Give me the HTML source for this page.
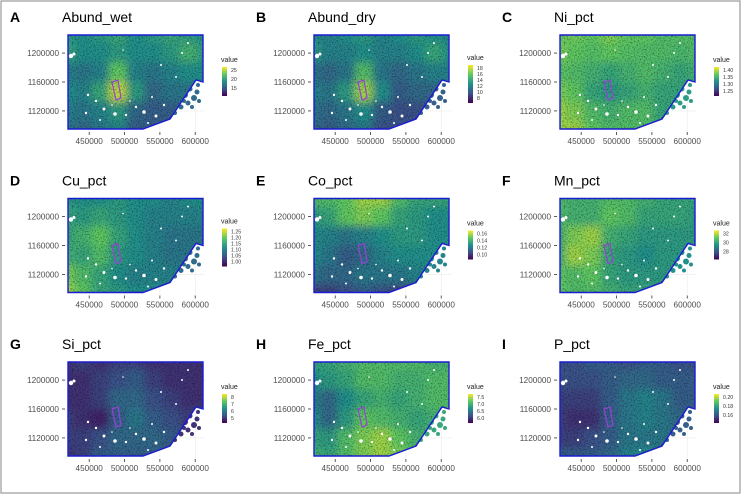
<!DOCTYPE html>
<html><head><meta charset="utf-8"><style>
body{margin:0;background:#fff}
svg{display:block;font-family:"Liberation Sans",sans-serif}
</style></head><body>
<svg id="fig" width="746" height="501" viewBox="0 0 746 501">
<defs>
<filter id="blur" x="-10%" y="-10%" width="120%" height="120%"><feGaussianBlur stdDeviation="4"/></filter>
<filter id="grain"><feTurbulence type="fractalNoise" baseFrequency="0.7" numOctaves="2" seed="3"/><feColorMatrix type="matrix" values="0 0 0 0 0  0 0 0 0 0  0 0 0 0 0  0 0 0 -2.6 1.4"/></filter>
</defs>
<rect x="1" y="1" width="739" height="492" fill="none" stroke="#999" stroke-width="1.2"/>
</svg>
<script>
const panelLetters=["A","B","C","D","E","F","G","H","I"];
const panelTitles=["Abund_wet","Abund_dry","Ni_pct","Cu_pct","Co_pct","Mn_pct","Si_pct","Fe_pct","P_pct"];
const legendTicks=[["25","20","15"],["18","16","14","12","10","8"],["1.40","1.35","1.30","1.25"],["1.25","1.20","1.15","1.10","1.05","1.00"],["0.16","0.14","0.12","0.10"],["32","30","28"],["8","7","6","5"],["7.5","7.0","6.5","6.0"],["0.20","0.18","0.16"]];
const xTickLabels=["450000","500000","550000","600000"];
const xTickValues=[450000,500000,550000,600000];
const yTickLabels=["1200000","1160000","1120000"];
const yTickValues=[1200000,1160000,1120000];
const gridA=[[.55,.5,.55,.6,.5,.55,.6,.55,.5],[.6,.5,.5,.55,.5,.5,.55,.65,.55],[.45,.4,.45,.75,.45,.4,.45,.5,.5],[.5,.45,.6,.9,.55,.35,.4,.4,.4],[.45,.4,.45,.55,.35,.3,.3,.35,.4],[.4,.35,.4,.45,.3,.3,.3,.35,.4]];
const gridB=[[.5,.45,.5,.55,.45,.5,.55,.5,.45],[.55,.45,.45,.5,.45,.45,.5,.6,.5],[.4,.35,.4,.7,.4,.35,.4,.45,.45],[.45,.4,.55,.85,.5,.3,.35,.35,.35],[.4,.35,.4,.5,.3,.25,.25,.3,.35],[.35,.3,.35,.4,.25,.25,.25,.3,.35]];
const gridC=[[.75,.78,.75,.8,.75,.75,.7,.72,.7],[.8,.75,.72,.75,.72,.7,.7,.68,.7],[.75,.7,.65,.6,.65,.7,.65,.6,.65],[.8,.75,.6,.55,.6,.65,.6,.6,.6],[.85,.8,.7,.65,.7,.7,.6,.6,.6],[.85,.85,.75,.7,.7,.7,.6,.6,.6]];
const gridD=[[.55,.5,.5,.55,.5,.5,.45,.5,.5],[.6,.55,.6,.55,.5,.45,.45,.45,.45],[.6,.65,.75,.6,.5,.45,.4,.4,.4],[.65,.6,.7,.55,.5,.45,.4,.4,.4],[.8,.7,.6,.5,.45,.45,.45,.4,.45],[.85,.75,.6,.55,.5,.5,.5,.45,.45]];
const gridE=[[.7,.7,.75,.85,.85,.7,.6,.6,.6],[.55,.6,.75,.8,.75,.6,.55,.5,.5],[.5,.45,.4,.45,.5,.55,.55,.5,.5],[.5,.4,.3,.35,.45,.5,.5,.5,.5],[.4,.35,.35,.4,.4,.4,.45,.5,.5],[.2,.2,.25,.3,.25,.2,.2,.3,.3]];
const gridF=[[.7,.65,.65,.7,.7,.65,.6,.6,.6],[.7,.65,.65,.75,.7,.6,.6,.6,.55],[.65,.8,.85,.65,.6,.55,.55,.55,.55],[.65,.85,.8,.6,.55,.5,.55,.55,.55],[.75,.7,.75,.6,.55,.55,.55,.55,.55],[.75,.7,.7,.65,.6,.6,.6,.55,.55]];
const gridG=[[.15,.2,.15,.2,.2,.15,.15,.15,.15],[.15,.15,.2,.25,.3,.2,.15,.15,.15],[.15,.15,.2,.35,.35,.25,.2,.15,.15],[.2,.15,.1,.3,.4,.3,.25,.2,.2],[.2,.2,.25,.35,.35,.35,.3,.25,.25],[.15,.2,.3,.3,.3,.3,.3,.25,.25]];
const gridH=[[.6,.6,.65,.7,.7,.7,.7,.65,.65],[.5,.55,.6,.7,.7,.65,.65,.7,.7],[.45,.35,.5,.6,.65,.6,.65,.7,.7],[.5,.35,.55,.75,.7,.65,.6,.65,.65],[.6,.55,.7,.8,.85,.75,.65,.65,.65],[.65,.6,.7,.8,.85,.8,.7,.65,.65]];
const gridI=[[.25,.25,.3,.3,.25,.3,.3,.25,.25],[.25,.25,.25,.3,.35,.35,.3,.3,.3],[.2,.2,.2,.3,.4,.45,.4,.3,.3],[.2,.15,.15,.3,.4,.45,.4,.35,.35],[.2,.2,.25,.3,.4,.4,.4,.35,.35],[.3,.3,.3,.35,.45,.5,.35,.35,.35]];
const grids=[gridA,gridB,gridC,gridD,gridE,gridF,gridG,gridH,gridI];

const NS="http://www.w3.org/2000/svg";
const svg=document.getElementById('fig');
const defs=svg.querySelector('defs');
const V=[[0,[68,1,84]],[.25,[59,82,139]],[.5,[33,145,140]],[.75,[94,201,98]],[1,[253,231,37]]];
function vir(t){t=Math.max(0,Math.min(1,t));for(let i=0;i<V.length-1;i++){const [a,ca]=V[i],[b,cb]=V[i+1];if(t<=b){const f=(t-a)/(b-a);return `rgb(${ca.map((c,k)=>Math.round(c+(cb[k]-c)*f)).join(',')})`;}}}
function mk(tag,attrs,parent){const e=document.createElementNS(NS,tag);for(const k in attrs)e.setAttribute(k,attrs[k]);(parent||svg).appendChild(e);return e;}
const MW=135,MH=94;
const X0=420000,X1=611000,Y0=1225000,Y1=1095000;
function sx(v){return (v-X0)/(X1-X0)*MW;}
function sy(v){return (v-Y0)/(Y1-Y0)*MH;}
const outline="0,0 135,0 135,47 128,45 102,84 75,94 0,94";
const holes=[[3,21,2.2],[6,19,1.5],[20,60,1.2],[28,66,1.2],[36,74,1.5],[47,79,1.8],[58,80,1.2],[68,72,1.2],[76,77,1.8],[88,81,1.5],[96,70,1.2],[84,62,1],[55,15,.8],[93,30,1],[114,18,1],[120,8,1],[18,78,1.2],[32,85,1],[108,42,1],[44,70,.8],[62,66,.8],[80,88,1]];
const islands=[[117,60,3],[122,54,2.5],[129,57,2.5],[126,63,3],[120,68,2.5],[113,72,2.5],[131,66,2],[107,78,2],[124,72,2],[130,50,2],[116,66,2]];
grids.forEach((g,p)=>{
  const col=p%3,row=Math.floor(p/3);
  const ox=68+col*246, oy=35+row*163.5;
  const G=mk('g',{transform:`translate(${ox},${oy})`});
  
  
  const lt=mk('text',{x:-58,y:-13,'font-size':14,'font-weight':'bold',fill:'#000'},G);lt.textContent=panelLetters[p];
  
  const tt=mk('text',{x:-6,y:-13,'font-size':14,fill:'#000'},G);tt.textContent=panelTitles[p];
  
  xTickValues.forEach(v=>{const l=mk('line',{x1:sx(v),x2:sx(v),y1:-2,y2:MH+2,stroke:'#ebebeb','stroke-width':.6},G);});
  yTickValues.forEach(v=>{const l=mk('line',{x1:-2,x2:MW+2,y1:sy(v),y2:sy(v),stroke:'#ebebeb','stroke-width':.6},G);});
  const cp=mk('clipPath',{id:'clip'+p},defs);
  mk('polygon',{points:outline},cp);
  const raster=mk('g',{'clip-path':`url(#clip${p})`},G);
  
  const bl=mk('g',{filter:'url(#blur)'},raster);
  const nr=g.length,nc=g[0].length,pad=12;
  const cw=(MW+2*pad)/nc,ch=(MH+2*pad)/nr;
  g.forEach((r,i)=>r.forEach((v,j)=>{
    const c=mk('rect',{x:-pad+j*cw,y:-pad+i*ch,width:cw+0.5,height:ch+0.5,fill:vir(v)},bl);
    
  }));
  mk('rect',{x:0,y:0,width:MW,height:MH,filter:'url(#grain)',opacity:.45},raster);
  holes.forEach(h=>{const c=mk('circle',{cx:h[0],cy:h[1],r:h[2],fill:'#fff'},raster);});
  const avg=g[3][8];
  islands.forEach(h=>{const c=mk('circle',{cx:h[0],cy:h[1],r:h[2],fill:vir(avg-0.05)},G);});
  const ol=mk('polygon',{points:outline,fill:'none',stroke:'#1c1cd0','stroke-width':1.4},G);
  
  const box=mk('polygon',{points:"44,47 50,45 53,63 48,65",fill:'none',stroke:'#9a3fd6','stroke-width':1.2},G);
  
  yTickValues.forEach((v,i)=>{
    const t=mk('text',{x:-9,y:sy(v)+3,'font-size':8.2,fill:'#4d4d4d','text-anchor':'end'},G);t.textContent=yTickLabels[i];
    
    mk('line',{x1:-6,x2:-3,y1:sy(v),y2:sy(v),stroke:'#333','stroke-width':.8},G);
  });
  xTickValues.forEach((v,i)=>{
    const t=mk('text',{x:sx(v),y:MH+15,'font-size':8.2,fill:'#4d4d4d','text-anchor':'middle'},G);t.textContent=xTickLabels[i];
    
    mk('line',{x1:sx(v),x2:sx(v),y1:MH+3,y2:MH+6,stroke:'#333','stroke-width':.8},G);
  });
  const ticks=legendTicks[p];
  const step=ticks.length>=5?6:(ticks.length==4?7:9);
  const bh=Math.max(29,(ticks.length-1)*step+8);
  const L=mk('g',{transform:`translate(${MW+18},${ticks.length>=5?25:27})`},G);
  
  const lv=mk('text',{x:0,y:0,'font-size':7,fill:'#222'},L);lv.textContent='value';
  
  const gid='lg'+p;const lg=mk('linearGradient',{id:gid,x1:0,y1:1,x2:0,y2:0},defs);
  V.forEach(([o])=>mk('stop',{offset:o,'stop-color':vir(o)},lg));
  const bar=mk('rect',{x:1,y:5,width:5,height:bh,fill:`url(#${gid})`},L);
  
  ticks.forEach((s,i)=>{
    const yy=5+3+i*step;
    const t=mk('text',{x:10,y:yy+2,'font-size':5.2,fill:'#333'},L);t.textContent=s;
    
  });
});
</script>
</body></html>
